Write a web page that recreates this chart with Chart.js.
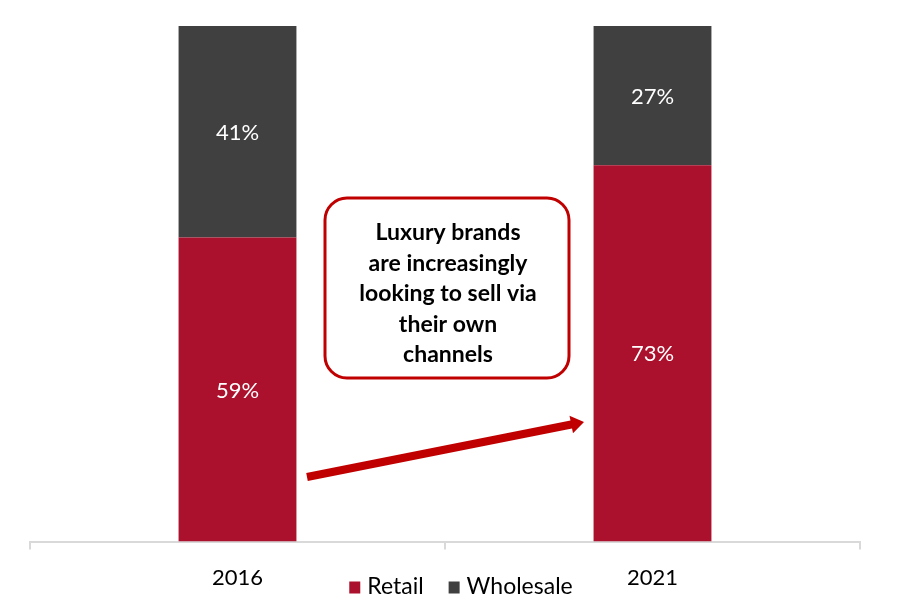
<!DOCTYPE html>
<html>
<head>
<meta charset="utf-8">
<script src="https://cdn.jsdelivr.net/npm/chart.js@4"></script>
<style>
  html, body { margin: 0; padding: 0; background: #fff; }
  #wrap { width: 923px; height: 615px; }
</style>
</head>
<body>
<div id="wrap"><canvas id="myChart" width="923" height="615"></canvas></div>
<script>
// Chart values
let years = ['2016', '2021'];
let retail = [59, 73];
let wholesale = [41, 27];
let seriesNames = ['Retail', 'Wholesale'];
let noteLines = ['Luxury brands', 'are increasingly', 'looking to sell via', 'their own', 'channels'];

const retailColor = 'rgb(171, 17, 45)';
const wholesaleColor = 'rgb(64, 64, 64)';
const fontName = 'Lato, "Open Sans", sans-serif';

// White percentage labels inside each segment
const segmentLabels = {
    id: 'segmentLabels',
    afterDatasetsDraw(chart) {
        const ctx = chart.ctx;
        ctx.save();
        ctx.fillStyle = '#fff';
        ctx.font = '22px ' + fontName;
        ctx.textAlign = 'center';
        ctx.textBaseline = 'middle';
        chart.data.datasets.forEach((ds, i) => {
            chart.getDatasetMeta(i).data.forEach((bar, j) => {
                const mid = (bar.y + bar.base) / 2;
                ctx.fillText(ds.data[j] + '%', bar.x, mid + 1);
            });
        });
        ctx.restore();
    }
};

// Callout box, arrow and legend drawn on top
const extras = {
    id: 'extras',
    afterDraw(chart) {
        const ctx = chart.ctx;
        const x = chart.scales.x;
        ctx.save();

        // rounded callout
        const bx = 325, by = 198, bw = 244, bh = 180, r = 22;
        ctx.beginPath();
        ctx.roundRect(bx, by, bw, bh, r);
        ctx.fillStyle = '#fff';
        ctx.fill();
        ctx.lineWidth = 3;
        ctx.strokeStyle = '#C00000';
        ctx.stroke();

        ctx.fillStyle = '#000';
        ctx.font = 'bold 23px ' + fontName;
        ctx.textAlign = 'center';
        ctx.textBaseline = 'middle';
        noteLines.forEach((t, i) => {
            ctx.fillText(t, bx + bw / 2 + 1, 233 + i * 30.5);
        });

        // arrow between the two bars
        const x0 = 307, y0 = 477, x1 = 584, y1 = 422;
        const ang = Math.atan2(y1 - y0, x1 - x0);
        const headLen = 13, headW = 9, shaft = 4;
        const bxh = x1 - headLen * Math.cos(ang), byh = y1 - headLen * Math.sin(ang);
        const px = -Math.sin(ang), py = Math.cos(ang);
        ctx.beginPath();
        ctx.moveTo(x0 + px * shaft, y0 + py * shaft);
        ctx.lineTo(bxh + px * shaft, byh + py * shaft);
        ctx.lineTo(bxh + px * headW, byh + py * headW);
        ctx.lineTo(x1, y1);
        ctx.lineTo(bxh - px * headW, byh - py * headW);
        ctx.lineTo(bxh - px * shaft, byh - py * shaft);
        ctx.lineTo(x0 - px * shaft, y0 - py * shaft);
        ctx.closePath();
        ctx.fillStyle = '#C00000';
        ctx.fill();

        // legend
        ctx.font = '23px ' + fontName;
        ctx.textAlign = 'left';
        ctx.textBaseline = 'middle';
        const colors = [retailColor, wholesaleColor];
        const box = 11, gap = 7, itemGap = 25, ly = 587;
        let total = 0;
        const widths = seriesNames.map(n => ctx.measureText(n).width);
        widths.forEach((w, i) => { total += box + gap + w + (i ? itemGap : 0); });
        let lx = (x.left + x.right) / 2 - total / 2 + 16;
        seriesNames.forEach((n, i) => {
            ctx.fillStyle = colors[i];
            ctx.fillRect(lx, ly - box / 2, box, box + 1);
            ctx.fillStyle = '#000';
            ctx.fillText(n, lx + box + gap, ly);
            lx += box + gap + widths[i] + itemGap;
        });
        ctx.restore();
    }
};

const data = {
    labels: years,
    datasets: [{
        label: seriesNames[0],
        data: retail,
        backgroundColor: retailColor
    },
    {
        label: seriesNames[1],
        data: wholesale,
        backgroundColor: wholesaleColor
    }]
};

const config = {
    type: 'bar',
    data: data,
    options: {
        responsive: false,
        animation: false,
        categoryPercentage: 1,
        barPercentage: 0.284,
        layout: { padding: { left: 30, right: 63, top: 26, bottom: 9 } },
        plugins: {
            legend: { display: false },
            tooltip: { enabled: false }
        },
        scales: {
            x: {
                stacked: true,
                border: { color: '#d9d9d9', width: 2 },
                grid: { drawOnChartArea: false, color: '#d9d9d9', lineWidth: 2, tickLength: 8, offset: true },
                ticks: { color: '#000', padding: 15, font: { family: fontName, size: 22 } }
            },
            y: {
                stacked: true,
                display: false,
                min: 0,
                max: 100
            }
        }
    },
    plugins: [segmentLabels, extras]
};

const theChart = new Chart(document.getElementById('myChart').getContext('2d'), config);
</script>
</body>
</html>
